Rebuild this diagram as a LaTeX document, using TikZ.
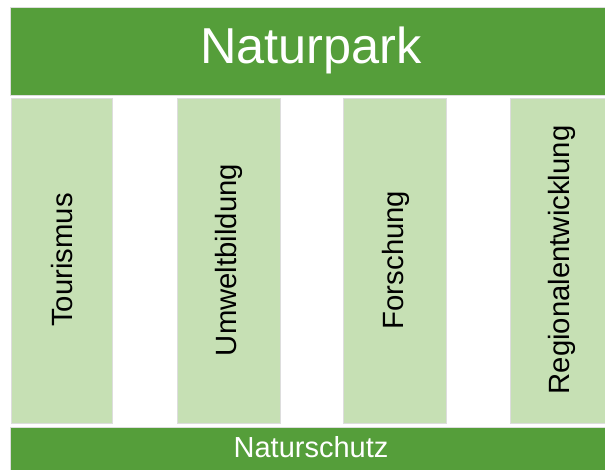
\documentclass[tikz,border=0pt]{standalone}
\usepackage{fontspec}
\setmainfont{Liberation Sans}
\definecolor{darkgreen}{HTML}{559E3A}
\definecolor{lightgreen}{HTML}{C6E0B4}
\definecolor{edgegray}{HTML}{DDDDDD}
\begin{document}
\begin{tikzpicture}[x=1pt,y=-1pt,
  bar/.style={fill=darkgreen,draw=edgegray,line width=0.8pt},
  pillar/.style={fill=lightgreen,draw=edgegray,line width=0.8pt},
  pillartext/.style={rotate=90,font=\fontsize{29.3}{31}\selectfont,text=black,inner sep=0pt}]
\useasboundingbox (0,0) rectangle (605,470);
\clip (0,0) rectangle (605,470);
\fill[white] (0,0) rectangle (605,470);
\path[bar] (10,7) rectangle (615,95);
\node[text=white,font=\fontsize{50.5}{52}\selectfont,inner sep=0pt] (top) at (311,50) {Naturpark};
\path[pillar] (11,98) rectangle (112,423);
\path[pillar] (177,98) rectangle (280,423);
\path[pillar] (343,98) rectangle (446,423);
\path[pillar] (510,98) rectangle (613,423);
\node[pillartext] (p1) at (62,260) {Tourismus};
\node[pillartext] (p2) at (229,260) {Umweltbildung};
\node[pillartext] (p3) at (396,260) {Forschung};
\node[pillartext] (p4) at (562,260) {Regionalentwicklung};
\path[bar] (10,427) rectangle (615,480);
\node[text=white,font=\fontsize{29}{31}\selectfont,inner sep=0pt] (bottom) at (311,447) {Naturschutz};
\end{tikzpicture}
\end{document}
